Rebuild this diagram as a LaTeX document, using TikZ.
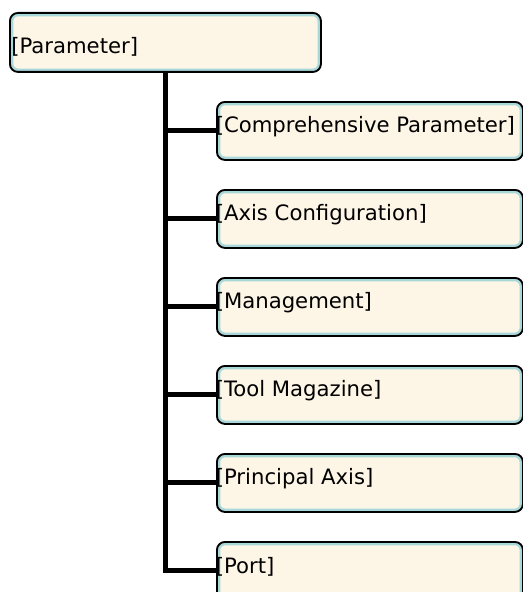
\documentclass[tikz,border=0pt]{standalone}
\usepackage{fontspec}
\setmainfont{DejaVu Sans}
\definecolor{boxfill}{HTML}{FDF5E6}
\definecolor{boxrim}{HTML}{A8D8DA}
\begin{document}
\begin{tikzpicture}[x=0.75pt,y=-0.75pt,
  box/.style={draw=black, line width=1.4pt, rounded corners=6pt, fill=boxfill,
    inner sep=0pt, anchor=north west,
    path picture={\draw[boxrim, line width=5pt, rounded corners=6pt]
      (path picture bounding box.south west) rectangle (path picture bounding box.north east);}},
  rootbox/.style={box, minimum width=233.25pt, minimum height=44.25pt},
  childbox/.style={box, minimum width=229.5pt, minimum height=43.5pt},
  lbl/.style={anchor=west, inner sep=0pt, text=black,
    font=\fontsize{15.9pt}{18pt}\selectfont},
  conn/.style={line width=3.75pt, black}]
\useasboundingbox (0,0) rectangle (523,592);
\clip (0,0) rectangle (523,592);

% root item
\node[rootbox] (root) at (9,12) {};
\node[lbl] (rootlbl) at (11,46.5) {[Parameter]};

% child items
\node[childbox] (c1) at (216,101) {};
\node[childbox] (c2) at (216,189) {};
\node[childbox] (c3) at (216,277) {};
\node[childbox] (c4) at (216,365) {};
\node[childbox] (c5) at (216,453) {};
\node[childbox] (c6) at (216,541) {};
\node[lbl] (l1) at (215.5,126.5) {[Comprehensive Parameter]};
\node[lbl] (l2) at (215.5,214.5) {[Axis Configuration]};
\node[lbl] (l3) at (215.5,302.5) {[Management]};
\node[lbl] (l4) at (215.5,390.5) {[Tool Magazine]};
\node[lbl] (l5) at (215.5,478.5) {[Principal Axis]};
\node[lbl] (l6) at (215.5,566.5) {[Port]};

% tree connectors
\coordinate (trunk) at (165,71);
\draw[conn] (trunk) |- (c6.west);
\foreach \c in {c1,c2,c3,c4,c5}
  \draw[conn] (trunk |- \c.west) -- (\c.west);
\end{tikzpicture}
\end{document}
